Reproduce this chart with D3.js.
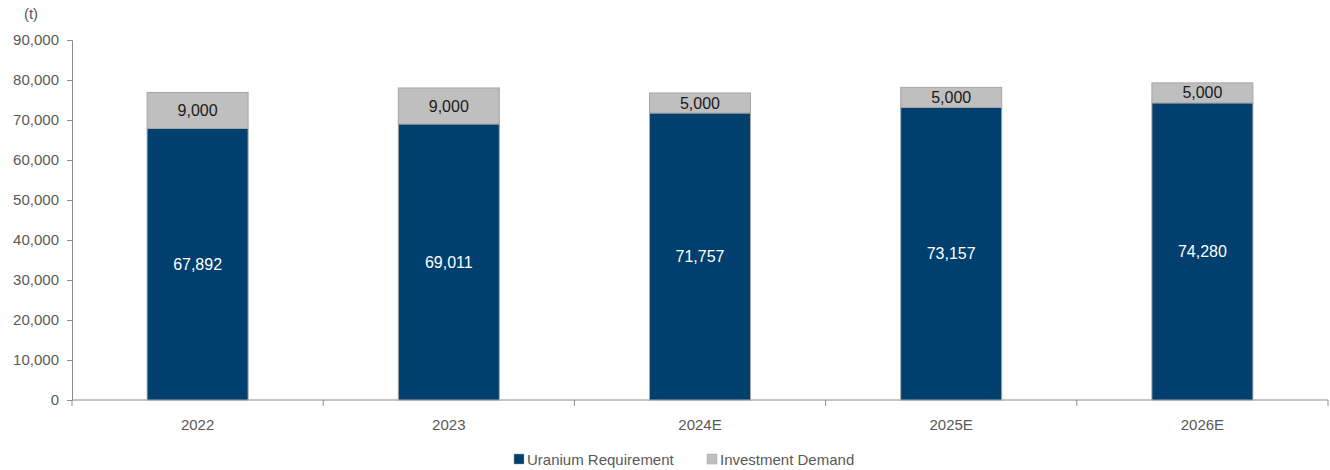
<!DOCTYPE html>
<html>
<head>
<meta charset="utf-8">
<script src="https://cdn.jsdelivr.net/npm/d3@7"></script>
<style>
  html, body { margin: 0; padding: 0; background: #fff; }
  svg { display: block; font-family: "Liberation Sans", Arial, sans-serif; }
</style>
</head>
<body>
<svg id="chart" width="1330" height="470"></svg>
<script>
// Uranium demand by year (tonnes)
const years = ["2022", "2023", "2024E", "2025E", "2026E"];
const uraniumRequirement = [67892, 69011, 71757, 73157, 74280];
const investmentDemand = [9000, 9000, 5000, 5000, 5000];
const yTicks = [0, 10000, 20000, 30000, 40000, 50000, 60000, 70000, 80000, 90000];
const seriesNames = ["Uranium Requirement", "Investment Demand"];
const seriesColors = ["#003f6e", "#bfbfbf"];

const svg = d3.select("#chart");
const margin = { left: 72, right: 2, top: 40, bottom: 70 };
const W = 1330, H = 470;
const x = d3.scaleBand().domain(years).range([margin.left, W - margin.right]).paddingInner(0.6).paddingOuter(0.3);
const xb = d3.scaleBand().domain(years).range([margin.left, W - margin.right]);
const y = d3.scaleLinear().domain([0, 90000]).range([H - margin.bottom - 0, margin.top]);

const fmt = d3.format(",");
const data = years.map((yr, i) => ({ yr, u: uraniumRequirement[i], inv: investmentDemand[i] }));

// Y axis
const yAxis = svg.append("g").attr("transform", `translate(${margin.left},0)`)
  .call(d3.axisLeft(y).tickValues(yTicks).tickFormat(fmt).tickSize(5).tickPadding(8));
yAxis.selectAll("path,line").attr("stroke", "#8c8c8c");
yAxis.selectAll("text").attr("fill", "#595959").style("font-size", "15px");

// X axis: ticks between categories
const xAxisG = svg.append("g").attr("transform", `translate(0,${y(0)})`);
xAxisG.append("line").attr("x1", margin.left).attr("x2", W - margin.right)
  .attr("stroke", "#8c8c8c");
const boundaries = years.map(d => xb(d)).concat([xb(years[years.length - 1]) + xb.bandwidth()]);
xAxisG.selectAll(".tk").data(boundaries).join("line")
  .attr("x1", d => d).attr("x2", d => d).attr("y1", 0).attr("y2", 6)
  .attr("stroke", "#8c8c8c");
xAxisG.selectAll(".lbl").data(years).join("text")
  .attr("x", d => xb(d) + xb.bandwidth() / 2).attr("y", 30)
  .attr("text-anchor", "middle").attr("fill", "#595959").style("font-size", "15px")
  .text(d => d);

// Bars
const bw = 101;
const bars = svg.append("g");
data.forEach(d => {
  const cx = xb(d.yr) + xb.bandwidth() / 2;
  bars.append("rect").attr("x", cx - bw / 2).attr("width", bw)
    .attr("y", y(d.u)).attr("height", y(0) - y(d.u))
    .attr("fill", seriesColors[0]).attr("stroke", "#a6a6a6").attr("stroke-width", 1);
  bars.append("rect").attr("x", cx - bw / 2).attr("width", bw)
    .attr("y", y(d.u + d.inv)).attr("height", y(d.u) - y(d.u + d.inv))
    .attr("fill", seriesColors[1]).attr("stroke", "#a6a6a6").attr("stroke-width", 1);
  bars.append("text").attr("x", cx).attr("y", (y(0) + y(d.u)) / 2)
    .attr("dy", "0.35em").attr("text-anchor", "middle").attr("fill", "#fff")
    .style("font-size", "16px").text(fmt(d.u));
  bars.append("text").attr("x", cx).attr("y", (y(d.u) + y(d.u + d.inv)) / 2)
    .attr("dy", "0.35em").attr("text-anchor", "middle").attr("fill", "#1a1a1a")
    .style("font-size", "16px").text(fmt(d.inv));
});

// Unit label
svg.append("text").attr("x", 31).attr("y", 19).attr("text-anchor", "middle")
  .attr("fill", "#595959").style("font-size", "15px").text("(t)");

// Legend
const legend = svg.append("g");
const legendX = [514, 707];
seriesNames.forEach((n, i) => {
  legend.append("rect").attr("x", legendX[i]).attr("y", 454).attr("width", 10).attr("height", 10)
    .attr("fill", seriesColors[i]).attr("stroke", "#a6a6a6").attr("stroke-width", 0.5);
  legend.append("text").attr("x", legendX[i] + 13).attr("y", 465)
    .attr("fill", "#595959").style("font-size", "15px").text(n);
});
</script>
</body>
</html>
